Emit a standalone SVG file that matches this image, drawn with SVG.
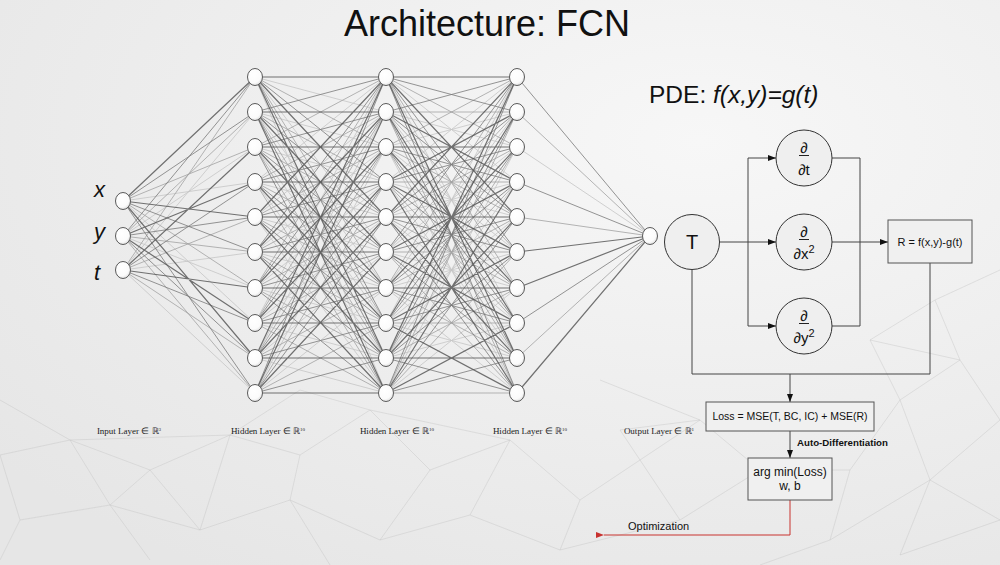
<svg xmlns="http://www.w3.org/2000/svg" width="1000" height="565" viewBox="0 0 1000 565">
<defs>
<radialGradient id="bg" cx="0.7" cy="0.25" r="0.9">
<stop offset="0" stop-color="#f7f7f7"/>
<stop offset="1" stop-color="#e6e6e6"/>
</radialGradient>
<radialGradient id="nf" cx="0.4" cy="0.35" r="0.7">
<stop offset="0" stop-color="#ffffff"/>
<stop offset="0.7" stop-color="#fbfbfb"/>
<stop offset="1" stop-color="#dcdcdc"/>
</radialGradient>
<marker id="arr" viewBox="0 0 8 6" refX="8" refY="3" markerWidth="8" markerHeight="6" markerUnits="userSpaceOnUse" orient="auto">
<path d="M0 0L8 3L0 6z" fill="#111"/>
</marker>
<marker id="arrR" viewBox="0 0 8 6" refX="0" refY="3" markerWidth="8" markerHeight="6" markerUnits="userSpaceOnUse" orient="auto">
<path d="M8 0L0 3L8 6z" fill="#c8322f"/>
</marker>
</defs>
<style>
.nn{fill:url(#nf);stroke:#5a5a5a;stroke-width:1}
.ca{fill:none;stroke:#505050;stroke-width:1.2;stroke-opacity:.8}
.cb{fill:none;stroke:#7a7a7a;stroke-width:1;stroke-opacity:.8}
.cc{fill:none;stroke:#a2a2a2;stroke-width:1;stroke-opacity:.8}
.cd{fill:none;stroke:#c6c6c6;stroke-width:1;stroke-opacity:.8}
.fl{fill:none;stroke:#444;stroke-width:1}
.bx{fill:#f0f0f0;stroke:#555;stroke-width:1}
.ci{fill:#efefef;stroke:#333;stroke-width:1}
.t{font-family:"Liberation Sans",Arial,sans-serif;fill:#111}
.ll{font-family:"Liberation Serif","Times New Roman",serif;font-size:9px;fill:#222;text-anchor:middle}
.bgn{fill:none;stroke:#c4c4c4;stroke-width:0.7;stroke-opacity:.6}
</style>
<rect x="0" y="0" width="1000" height="565" fill="url(#bg)"/>
<g id="background-network">
<path class="bgn" d="M0 455L70 440L150 470L230 435L300 455L370 410L430 470L510 440L580 500L640 460L700 420L760 470M0 455L20 520M70 440L110 505M150 470L110 505M230 435L200 530M300 455L290 500M370 410L510 440M430 470L380 540M510 440L470 515M580 500L560 550M640 460L680 520M20 520L110 505L200 530L290 500L380 540L470 515L560 550L680 520L760 470M20 520L0 560M110 505L150 560M290 500L330 565M70 440L230 435M150 470L200 530M600 380L700 420L620 430L640 460M0 400L70 440M230 435L300 390L370 410M870 340L935 300L1000 270M935 300L960 360M870 340L960 360M960 360L900 400M960 360L1000 420M900 400L850 470M900 400L930 480M1000 420L930 480L1000 520M850 470L830 540M930 480L830 540M930 480L900 555M1000 520L900 555M870 340L900 400M760 470L850 470M830 540L760 565"/>
</g>
<g id="connectors-nn">
<path class="cd" d="M123 201L255 182M123 201L255 323M123 236L255 147M123 236L255 288M123 270L255 112M123 270L255 252M123 270L255 393
M255 77L386 112M255 77L386 252M255 77L386 393M255 217L386 112M255 217L386 252M255 217L386 393M255 358L386 112M255 358L386 252M255 358L386 393M255 112L386 147M255 112L386 288M255 252L386 147M255 252L386 288M255 393L386 147M255 393L386 288M255 147L386 182M255 147L386 323M255 288L386 182M255 288L386 323M255 182L386 77M255 182L386 217M255 182L386 358M255 323L386 77M255 323L386 217M255 323L386 358
M386 77L517 182M386 77L517 323M386 217L517 182M386 217L517 323M386 358L517 182M386 358L517 323M386 112L517 147M386 112L517 288M386 252L517 147M386 252L517 288M386 393L517 147M386 393L517 288M386 147L517 112M386 147L517 252M386 147L517 393M386 288L517 112M386 288L517 252M386 288L517 393M386 182L517 77M386 182L517 217M386 182L517 358M386 323L517 77M386 323L517 217M386 323L517 358
M517 147L650 236"/>
<path class="cc" d="M123 201L255 147M123 201L255 288M123 236L255 112M123 236L255 252M123 236L255 393M123 270L255 77M123 270L255 217M123 270L255 358
M255 77L386 147M255 77L386 288M255 217L386 147M255 217L386 288M255 358L386 147M255 358L386 288M255 112L386 182M255 112L386 323M255 252L386 182M255 252L386 323M255 393L386 182M255 393L386 323M255 147L386 77M255 147L386 217M255 147L386 358M255 288L386 77M255 288L386 217M255 288L386 358M255 182L386 112M255 182L386 252M255 182L386 393M255 323L386 112M255 323L386 252M255 323L386 393
M386 77L517 147M386 77L517 288M386 217L517 147M386 217L517 288M386 358L517 147M386 358L517 288M386 112L517 112M386 112L517 252M386 112L517 393M386 252L517 112M386 252L517 252M386 252L517 393M386 393L517 112M386 393L517 252M386 393L517 393M386 147L517 77M386 147L517 217M386 147L517 358M386 288L517 77M386 288L517 217M386 288L517 358M386 182L517 182M386 182L517 323M386 323L517 182M386 323L517 323
M517 112L650 236M517 217L650 236M517 358L650 236"/>
<path class="cb" d="M123 201L255 112M123 201L255 252M123 201L255 393M123 236L255 77M123 236L255 217M123 236L255 358M123 270L255 182M123 270L255 323
M255 77L386 182M255 77L386 323M255 217L386 182M255 217L386 323M255 358L386 182M255 358L386 323M255 112L386 77M255 112L386 217M255 112L386 358M255 252L386 77M255 252L386 217M255 252L386 358M255 393L386 77M255 393L386 217M255 393L386 358M255 147L386 112M255 147L386 252M255 147L386 393M255 288L386 112M255 288L386 252M255 288L386 393M255 182L386 147M255 182L386 288M255 323L386 147M255 323L386 288
M386 77L517 112M386 77L517 252M386 77L517 393M386 217L517 112M386 217L517 252M386 217L517 393M386 358L517 112M386 358L517 252M386 358L517 393M386 112L517 77M386 112L517 217M386 112L517 358M386 252L517 77M386 252L517 217M386 252L517 358M386 393L517 77M386 393L517 217M386 393L517 358M386 147L517 182M386 147L517 323M386 288L517 182M386 288L517 323M386 182L517 147M386 182L517 288M386 323L517 147M386 323L517 288
M517 77L650 236M517 182L650 236M517 323L650 236"/>
<path class="ca" d="M123 201L255 77M123 201L255 217M123 201L255 358M123 236L255 182M123 236L255 323M123 270L255 147M123 270L255 288
M255 77L386 77M255 77L386 217M255 77L386 358M255 217L386 77M255 217L386 217M255 217L386 358M255 358L386 77M255 358L386 217M255 358L386 358M255 112L386 112M255 112L386 252M255 112L386 393M255 252L386 112M255 252L386 252M255 252L386 393M255 393L386 112M255 393L386 252M255 393L386 393M255 147L386 147M255 147L386 288M255 288L386 147M255 288L386 288M255 182L386 182M255 182L386 323M255 323L386 182M255 323L386 323
M386 77L517 77M386 77L517 217M386 77L517 358M386 217L517 77M386 217L517 217M386 217L517 358M386 358L517 77M386 358L517 217M386 358L517 358M386 112L517 182M386 112L517 323M386 252L517 182M386 252L517 323M386 393L517 182M386 393L517 323M386 147L517 147M386 147L517 288M386 288L517 147M386 288L517 288M386 182L517 112M386 182L517 252M386 182L517 393M386 323L517 112M386 323L517 252M386 323L517 393
M517 252L650 236M517 288L650 236M517 393L650 236"/>
</g>
<g id="input-layer">
<g id="in-x"><ellipse class="nn" cx="123" cy="201" rx="7.5" ry="8.5"/></g>
<g id="in-y"><ellipse class="nn" cx="123" cy="236" rx="7.5" ry="8.5"/></g>
<g id="in-t"><ellipse class="nn" cx="123" cy="270" rx="7.5" ry="8.5"/></g>
</g>
<g id="hidden-1">
<g id="h1-0"><ellipse class="nn" cx="255" cy="77" rx="7.5" ry="8.5"/></g>
<g id="h1-1"><ellipse class="nn" cx="255" cy="112" rx="7.5" ry="8.5"/></g>
<g id="h1-2"><ellipse class="nn" cx="255" cy="147" rx="7.5" ry="8.5"/></g>
<g id="h1-3"><ellipse class="nn" cx="255" cy="182" rx="7.5" ry="8.5"/></g>
<g id="h1-4"><ellipse class="nn" cx="255" cy="217" rx="7.5" ry="8.5"/></g>
<g id="h1-5"><ellipse class="nn" cx="255" cy="252" rx="7.5" ry="8.5"/></g>
<g id="h1-6"><ellipse class="nn" cx="255" cy="288" rx="7.5" ry="8.5"/></g>
<g id="h1-7"><ellipse class="nn" cx="255" cy="323" rx="7.5" ry="8.5"/></g>
<g id="h1-8"><ellipse class="nn" cx="255" cy="358" rx="7.5" ry="8.5"/></g>
<g id="h1-9"><ellipse class="nn" cx="255" cy="393" rx="7.5" ry="8.5"/></g>
</g>
<g id="hidden-2">
<g id="h2-0"><ellipse class="nn" cx="386" cy="77" rx="7.5" ry="8.5"/></g>
<g id="h2-1"><ellipse class="nn" cx="386" cy="112" rx="7.5" ry="8.5"/></g>
<g id="h2-2"><ellipse class="nn" cx="386" cy="147" rx="7.5" ry="8.5"/></g>
<g id="h2-3"><ellipse class="nn" cx="386" cy="182" rx="7.5" ry="8.5"/></g>
<g id="h2-4"><ellipse class="nn" cx="386" cy="217" rx="7.5" ry="8.5"/></g>
<g id="h2-5"><ellipse class="nn" cx="386" cy="252" rx="7.5" ry="8.5"/></g>
<g id="h2-6"><ellipse class="nn" cx="386" cy="288" rx="7.5" ry="8.5"/></g>
<g id="h2-7"><ellipse class="nn" cx="386" cy="323" rx="7.5" ry="8.5"/></g>
<g id="h2-8"><ellipse class="nn" cx="386" cy="358" rx="7.5" ry="8.5"/></g>
<g id="h2-9"><ellipse class="nn" cx="386" cy="393" rx="7.5" ry="8.5"/></g>
</g>
<g id="hidden-3">
<g id="h3-0"><ellipse class="nn" cx="517" cy="77" rx="7.5" ry="8.5"/></g>
<g id="h3-1"><ellipse class="nn" cx="517" cy="112" rx="7.5" ry="8.5"/></g>
<g id="h3-2"><ellipse class="nn" cx="517" cy="147" rx="7.5" ry="8.5"/></g>
<g id="h3-3"><ellipse class="nn" cx="517" cy="182" rx="7.5" ry="8.5"/></g>
<g id="h3-4"><ellipse class="nn" cx="517" cy="217" rx="7.5" ry="8.5"/></g>
<g id="h3-5"><ellipse class="nn" cx="517" cy="252" rx="7.5" ry="8.5"/></g>
<g id="h3-6"><ellipse class="nn" cx="517" cy="288" rx="7.5" ry="8.5"/></g>
<g id="h3-7"><ellipse class="nn" cx="517" cy="323" rx="7.5" ry="8.5"/></g>
<g id="h3-8"><ellipse class="nn" cx="517" cy="358" rx="7.5" ry="8.5"/></g>
<g id="h3-9"><ellipse class="nn" cx="517" cy="393" rx="7.5" ry="8.5"/></g>
</g>
<g id="output-layer">
<g id="out-0"><ellipse class="nn" cx="650" cy="236" rx="7.5" ry="8.5"/></g>
</g>
<g id="texts">
<text class="t" x="487" y="36" font-size="36" text-anchor="middle">Architecture: FCN</text>
<text class="t" x="649" y="103" font-size="24.5">PDE: <tspan font-style="italic">f(x,y)=g(t)</tspan></text>
<text class="t" x="94" y="197" font-size="22" font-style="italic">x</text>
<text class="t" x="94" y="239" font-size="22" font-style="italic">y</text>
<text class="t" x="94" y="280" font-size="22" font-style="italic">t</text>
<text class="ll" x="129" y="434">Input Layer ∈ ℝ<tspan font-size="5" dy="-3">3</tspan></text>
<text class="ll" x="268" y="434">Hidden Layer ∈ ℝ<tspan font-size="5" dy="-3">10</tspan></text>
<text class="ll" x="397" y="434">Hidden Layer ∈ ℝ<tspan font-size="5" dy="-3">10</tspan></text>
<text class="ll" x="530" y="434">Hidden Layer ∈ ℝ<tspan font-size="5" dy="-3">10</tspan></text>
<text class="ll" x="659" y="434">Output Layer ∈ ℝ<tspan font-size="5" dy="-3">1</tspan></text>
</g>
<g id="connectors-flow">
<path class="fl" d="M720 242H748" stroke-width="2"/>
<path class="fl" d="M748 158V326"/>
<path class="fl" d="M748 158H776" marker-end="url(#arr)"/>
<path class="fl" d="M748 242H776" marker-end="url(#arr)"/>
<path class="fl" d="M748 326H776" marker-end="url(#arr)"/>
<path class="fl" d="M832 158H860V326H832"/>
<path class="fl" d="M832 242H860"/>
<path class="fl" d="M860 242H888" stroke-width="1.8" marker-end="url(#arr)"/>
<path class="fl" d="M930 263V374H692V270"/>
<path class="fl" d="M790 374V402" marker-end="url(#arr)"/>
<path class="fl" d="M790 431V458" marker-end="url(#arr)"/>
<path d="M790 500V535H604" fill="none" stroke="#c8322f" stroke-width="1" marker-end="url(#arrR)"/>
<text class="t" x="797" y="446" font-size="9.7" font-weight="bold">Auto-Differentiation</text>
<text class="t" x="628" y="530" font-size="11">Optimization</text>
</g>
<g id="node-T">
<circle class="ci" cx="692" cy="242" r="27.5"/>
<text class="t" x="692" y="249" font-size="20" text-anchor="middle">T</text>
</g>
<g id="node-dt">
<circle class="ci" cx="804" cy="158" r="28"/>
<text class="t" x="804" y="153" font-size="15" text-anchor="middle">∂</text>
<line x1="799" y1="155.5" x2="809" y2="155.5" stroke="#222" stroke-width="1"/>
<text class="t" x="804" y="175" font-size="15" text-anchor="middle">∂t</text>
</g>
<g id="node-dx2">
<circle class="ci" cx="804" cy="242" r="28"/>
<text class="t" x="804" y="237" font-size="15" text-anchor="middle">∂</text>
<line x1="799" y1="239.5" x2="809" y2="239.5" stroke="#222" stroke-width="1"/>
<text class="t" x="804" y="259" font-size="15" text-anchor="middle">∂x<tspan font-size="11" dy="-6">2</tspan></text>
</g>
<g id="node-dy2">
<circle class="ci" cx="804" cy="326" r="28"/>
<text class="t" x="804" y="321" font-size="15" text-anchor="middle">∂</text>
<line x1="799" y1="323.5" x2="809" y2="323.5" stroke="#222" stroke-width="1"/>
<text class="t" x="804" y="343" font-size="15" text-anchor="middle">∂y<tspan font-size="11" dy="-6">2</tspan></text>
</g>
<g id="node-R">
<rect class="bx" x="888" y="220" width="84" height="43"/>
<text class="t" x="930" y="246" font-size="11" text-anchor="middle">R = f(x,y)-g(t)</text>
</g>
<g id="node-loss">
<rect class="bx" x="706" y="402" width="168" height="29"/>
<text class="t" x="790" y="420" font-size="10.5" text-anchor="middle">Loss = MSE(T, BC, IC) + MSE(R)</text>
</g>
<g id="node-argmin">
<rect class="bx" x="748" y="458" width="84" height="42"/>
<text class="t" x="790" y="476" font-size="12" text-anchor="middle">arg min(Loss)</text>
<text class="t" x="790" y="490" font-size="12" text-anchor="middle">w, b</text>
</g>
</svg>
